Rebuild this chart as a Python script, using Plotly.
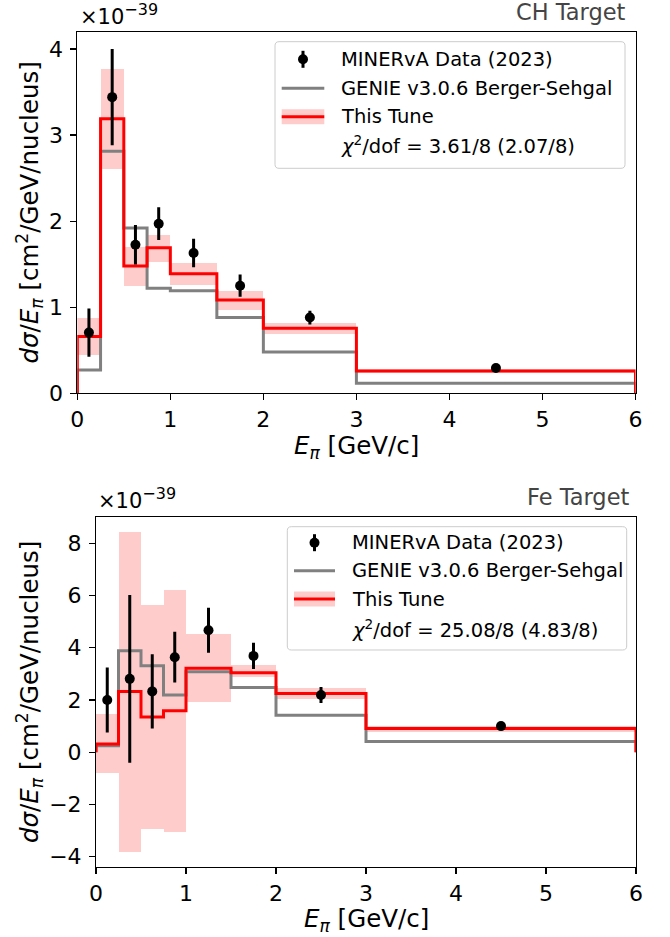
import plotly.graph_objects as go

W, H = 670, 937

# ---------------- data ----------------
bin_edges = [0.0, 0.25, 0.5, 0.75, 1.0, 1.5, 2.0, 3.0, 6.0]
data_x = [0.125, 0.375, 0.625, 0.875, 1.25, 1.75, 2.5, 4.5]

ch_data = [0.705, 3.44, 1.725, 1.97, 1.63, 1.25, 0.88, 0.294]
ch_err = [0.28, 0.56, 0.23, 0.19, 0.165, 0.13, 0.08, 0.035]
ch_genie = [0.27, 2.81, 1.92, 1.22, 1.19, 0.88, 0.48, 0.116]
ch_tune = [0.66, 3.19, 1.48, 1.69, 1.39, 1.085, 0.756, 0.26]
ch_tune_lo = [0.445, 2.60, 1.25, 1.52, 1.26, 0.97, 0.686, 0.235]
ch_tune_hi = [0.87, 3.77, 1.70, 1.84, 1.51, 1.19, 0.82, 0.285]

fe_data = [2.00, 2.81, 2.33, 3.64, 4.67, 3.69, 2.19, 1.00]
fe_err = [1.245, 3.21, 1.42, 0.97, 0.86, 0.50, 0.31, 0.15]
fe_genie = [0.25, 3.89, 3.31, 2.19, 3.08, 2.48, 1.42, 0.41]
fe_tune = [0.31, 2.33, 1.35, 1.59, 3.22, 3.04, 2.25, 0.91]
fe_tune_lo = [-0.78, -3.81, -2.95, -3.04, 1.93, 2.87, 2.02, 0.78]
fe_tune_hi = [1.45, 8.43, 5.64, 6.21, 4.53, 3.33, 2.47, 1.00]

x_ticks = [0, 1, 2, 3, 4, 5, 6]
ch_y_ticks = [0, 1, 2, 3, 4]
fe_y_ticks = [-4, -2, 0, 2, 4, 6, 8]

ch_label = "CH Target"
fe_label = "Fe Target"
ch_chi2 = "<i>χ</i><sup>2</sup>/dof = 3.61/8 (2.07/8)"
fe_chi2 = "<i>χ</i><sup>2</sup>/dof = 25.08/8 (4.83/8)"
legend_names = ["MINERvA Data (2023)", "GENIE v3.0.6 Berger-Sehgal", "This Tune"]

FONT = "DejaVu Sans"
RED = "#ff0000"
GREY = "#808080"
PINK = "rgba(255,0,0,0.2)"


def px(x):
    return x / W


def py(y):
    return 1 - y / H


def step_xy(edges, vals):
    xs = [edges[0]] + list(edges[:-1]) + [edges[-1], edges[-1]]
    ys = [0] + list(vals) + [vals[-1], 0]
    return xs, ys


fig = go.Figure()


def add_panel(xa, ya, data, err, genie, tune, lo, hi):
    centers = [(a + b) / 2 for a, b in zip(bin_edges[:-1], bin_edges[1:])]
    widths = [b - a for a, b in zip(bin_edges[:-1], bin_edges[1:])]
    fig.add_trace(go.Bar(
        x=centers, y=[h - l for h, l in zip(hi, lo)], base=lo, width=widths,
        marker=dict(color=PINK, line=dict(width=0)),
        xaxis=xa, yaxis=ya, showlegend=False, hoverinfo="skip"))
    gx, gy = step_xy(bin_edges, genie)
    fig.add_trace(go.Scatter(
        x=gx, y=gy, mode="lines", line=dict(color=GREY, width=3, shape="hv"),
        xaxis=xa, yaxis=ya, showlegend=False))
    tx, ty = step_xy(bin_edges, tune)
    fig.add_trace(go.Scatter(
        x=tx, y=ty, mode="lines", line=dict(color=RED, width=3, shape="hv"),
        xaxis=xa, yaxis=ya, showlegend=False))
    fig.add_trace(go.Scatter(
        x=data_x, y=data, mode="markers",
        marker=dict(color="black", size=10),
        error_y=dict(type="data", array=err, color="black", thickness=3, width=0),
        xaxis=xa, yaxis=ya, showlegend=False))


add_panel("x", "y", ch_data, ch_err, ch_genie, ch_tune, ch_tune_lo, ch_tune_hi)
add_panel("x2", "y2", fe_data, fe_err, fe_genie, fe_tune, fe_tune_lo, fe_tune_hi)

axis_common = dict(
    ticks="outside", ticklen=6, tickwidth=1.2, tickcolor="black",
    showline=True, linecolor="black", linewidth=1, mirror=True,
    showgrid=False, zeroline=False, automargin=False,
    tickfont=dict(family=FONT, size=22, color="black"),
)

fig.update_layout(
    width=W, height=H,
    margin=dict(l=0, r=0, t=0, b=0, pad=0, autoexpand=False),
    paper_bgcolor="white", plot_bgcolor="white",
    barmode="overlay", bargap=0,
    showlegend=False,
    font=dict(family=FONT, color="black"),
    xaxis=dict(domain=[px(77.3), px(635.5)], range=[0, 6], tickvals=x_ticks,
               anchor="y", **axis_common),
    yaxis=dict(domain=[py(393.3), py(31.7)], range=[0, 4.2], tickvals=ch_y_ticks,
               anchor="x", ticklabelstandoff=3, **axis_common),
    xaxis2=dict(domain=[px(96), px(636)], range=[0, 6], tickvals=x_ticks,
                anchor="y2", **axis_common),
    yaxis2=dict(domain=[py(867.3), py(516.5)], range=[-4.41, 9.03], tickvals=fe_y_ticks,
                anchor="x2", ticklabelstandoff=3, **axis_common),
)

annotations = []
shapes = []


def ann(text, x, y, size, xanchor="center", yanchor="middle", color="black", angle=0):
    annotations.append(dict(
        text=text, x=px(x), y=py(y), xref="paper", yref="paper",
        xanchor=xanchor, yanchor=yanchor, showarrow=False, textangle=angle,
        font=dict(family=FONT, size=size, color=color)))


ylab = "<i>dσ</i>/<i>E</i><sub><i>π</i></sub> [cm<sup>2</sup>/GeV/nucleus]"
xlab = "<i>E</i><sub><i>π</i></sub> [GeV/c]"
offset_txt = "×10<sup><span style='font-size:16px'>−39</span></sup>"

# top panel texts
ann(ylab, 29, 212.5, 24.5, angle=-90)
ann(xlab, 356.4, 447, 24.5)
ann(offset_txt, 78, 31, 21, xanchor="left", yanchor="bottom")
ann(ch_label, 628, 11.7, 22.5, xanchor="right", color="#444444")
# bottom panel texts
ann(ylab, 29, 692, 24.5, angle=-90)
ann(xlab, 366, 920, 24.5)
ann(offset_txt, 96, 515, 21, xanchor="left", yanchor="bottom")
ann(fe_label, 630.5, 496.7, 22.5, xanchor="right", color="#444444")


def rounded_box(x0, y0, x1, y1, r):
    # pixel coords -> paper path
    def P(x, y):
        return f"{px(x):.5f},{py(y):.5f}"
    return (f"M {P(x0 + r, y0)} L {P(x1 - r, y0)} Q {P(x1, y0)} {P(x1, y0 + r)} "
            f"L {P(x1, y1 - r)} Q {P(x1, y1)} {P(x1 - r, y1)} "
            f"L {P(x0 + r, y1)} Q {P(x0, y1)} {P(x0, y1 - r)} "
            f"L {P(x0, y0 + r)} Q {P(x0, y0)} {P(x0 + r, y0)} Z")


def legend(box, rows, sx0, sx1, tx, chi2):
    x0, y0, x1, y1 = box
    shapes.append(dict(type="path", path=rounded_box(x0, y0, x1, y1, 4),
                       xref="paper", yref="paper", layer="above",
                       fillcolor="rgba(255,255,255,0.8)",
                       line=dict(color="#cccccc", width=1)))
    sc = (sx0 + sx1) / 2
    # data symbol
    shapes.append(dict(type="line", xref="paper", yref="paper", layer="above",
                       x0=px(sc), x1=px(sc), y0=py(rows[0] - 8.5), y1=py(rows[0] + 8.5),
                       line=dict(color="black", width=3)))
    shapes.append(dict(type="circle", xref="paper", yref="paper", layer="above",
                       x0=px(sc - 5), x1=px(sc + 5), y0=py(rows[0] - 5), y1=py(rows[0] + 5),
                       fillcolor="black", line=dict(color="black", width=0)))
    # genie symbol
    shapes.append(dict(type="line", xref="paper", yref="paper", layer="above",
                       x0=px(sx0), x1=px(sx1), y0=py(rows[1]), y1=py(rows[1]),
                       line=dict(color=GREY, width=3)))
    # tune symbol
    shapes.append(dict(type="rect", xref="paper", yref="paper", layer="above",
                       x0=px(sx0), x1=px(sx1), y0=py(rows[2] - 7.5), y1=py(rows[2] + 7.5),
                       fillcolor=PINK, line=dict(width=0)))
    shapes.append(dict(type="line", xref="paper", yref="paper", layer="above",
                       x0=px(sx0), x1=px(sx1), y0=py(rows[2]), y1=py(rows[2]),
                       line=dict(color=RED, width=3)))
    for name, ry in zip(legend_names + [chi2], rows):
        ann(name, tx, ry, 19.5, xanchor="left")


legend((275, 41.7, 625, 168.3), [59.3, 88.3, 116.7, 145.0], 281.7, 324.3, 339.3, ch_chi2)
legend((287.3, 526.7, 626.7, 650.0), [542.7, 570.7, 599.0, 629.0], 294, 335, 350, fe_chi2)

fig.update_layout(annotations=annotations, shapes=shapes)
# remove the default page margin so the figure sits at the window's top-left corner
fig.write_html(
    "out.html",
    config={"displayModeBar": False, "staticPlot": True},
    post_script="document.body.style.margin='0';document.body.style.padding='0';",
)
